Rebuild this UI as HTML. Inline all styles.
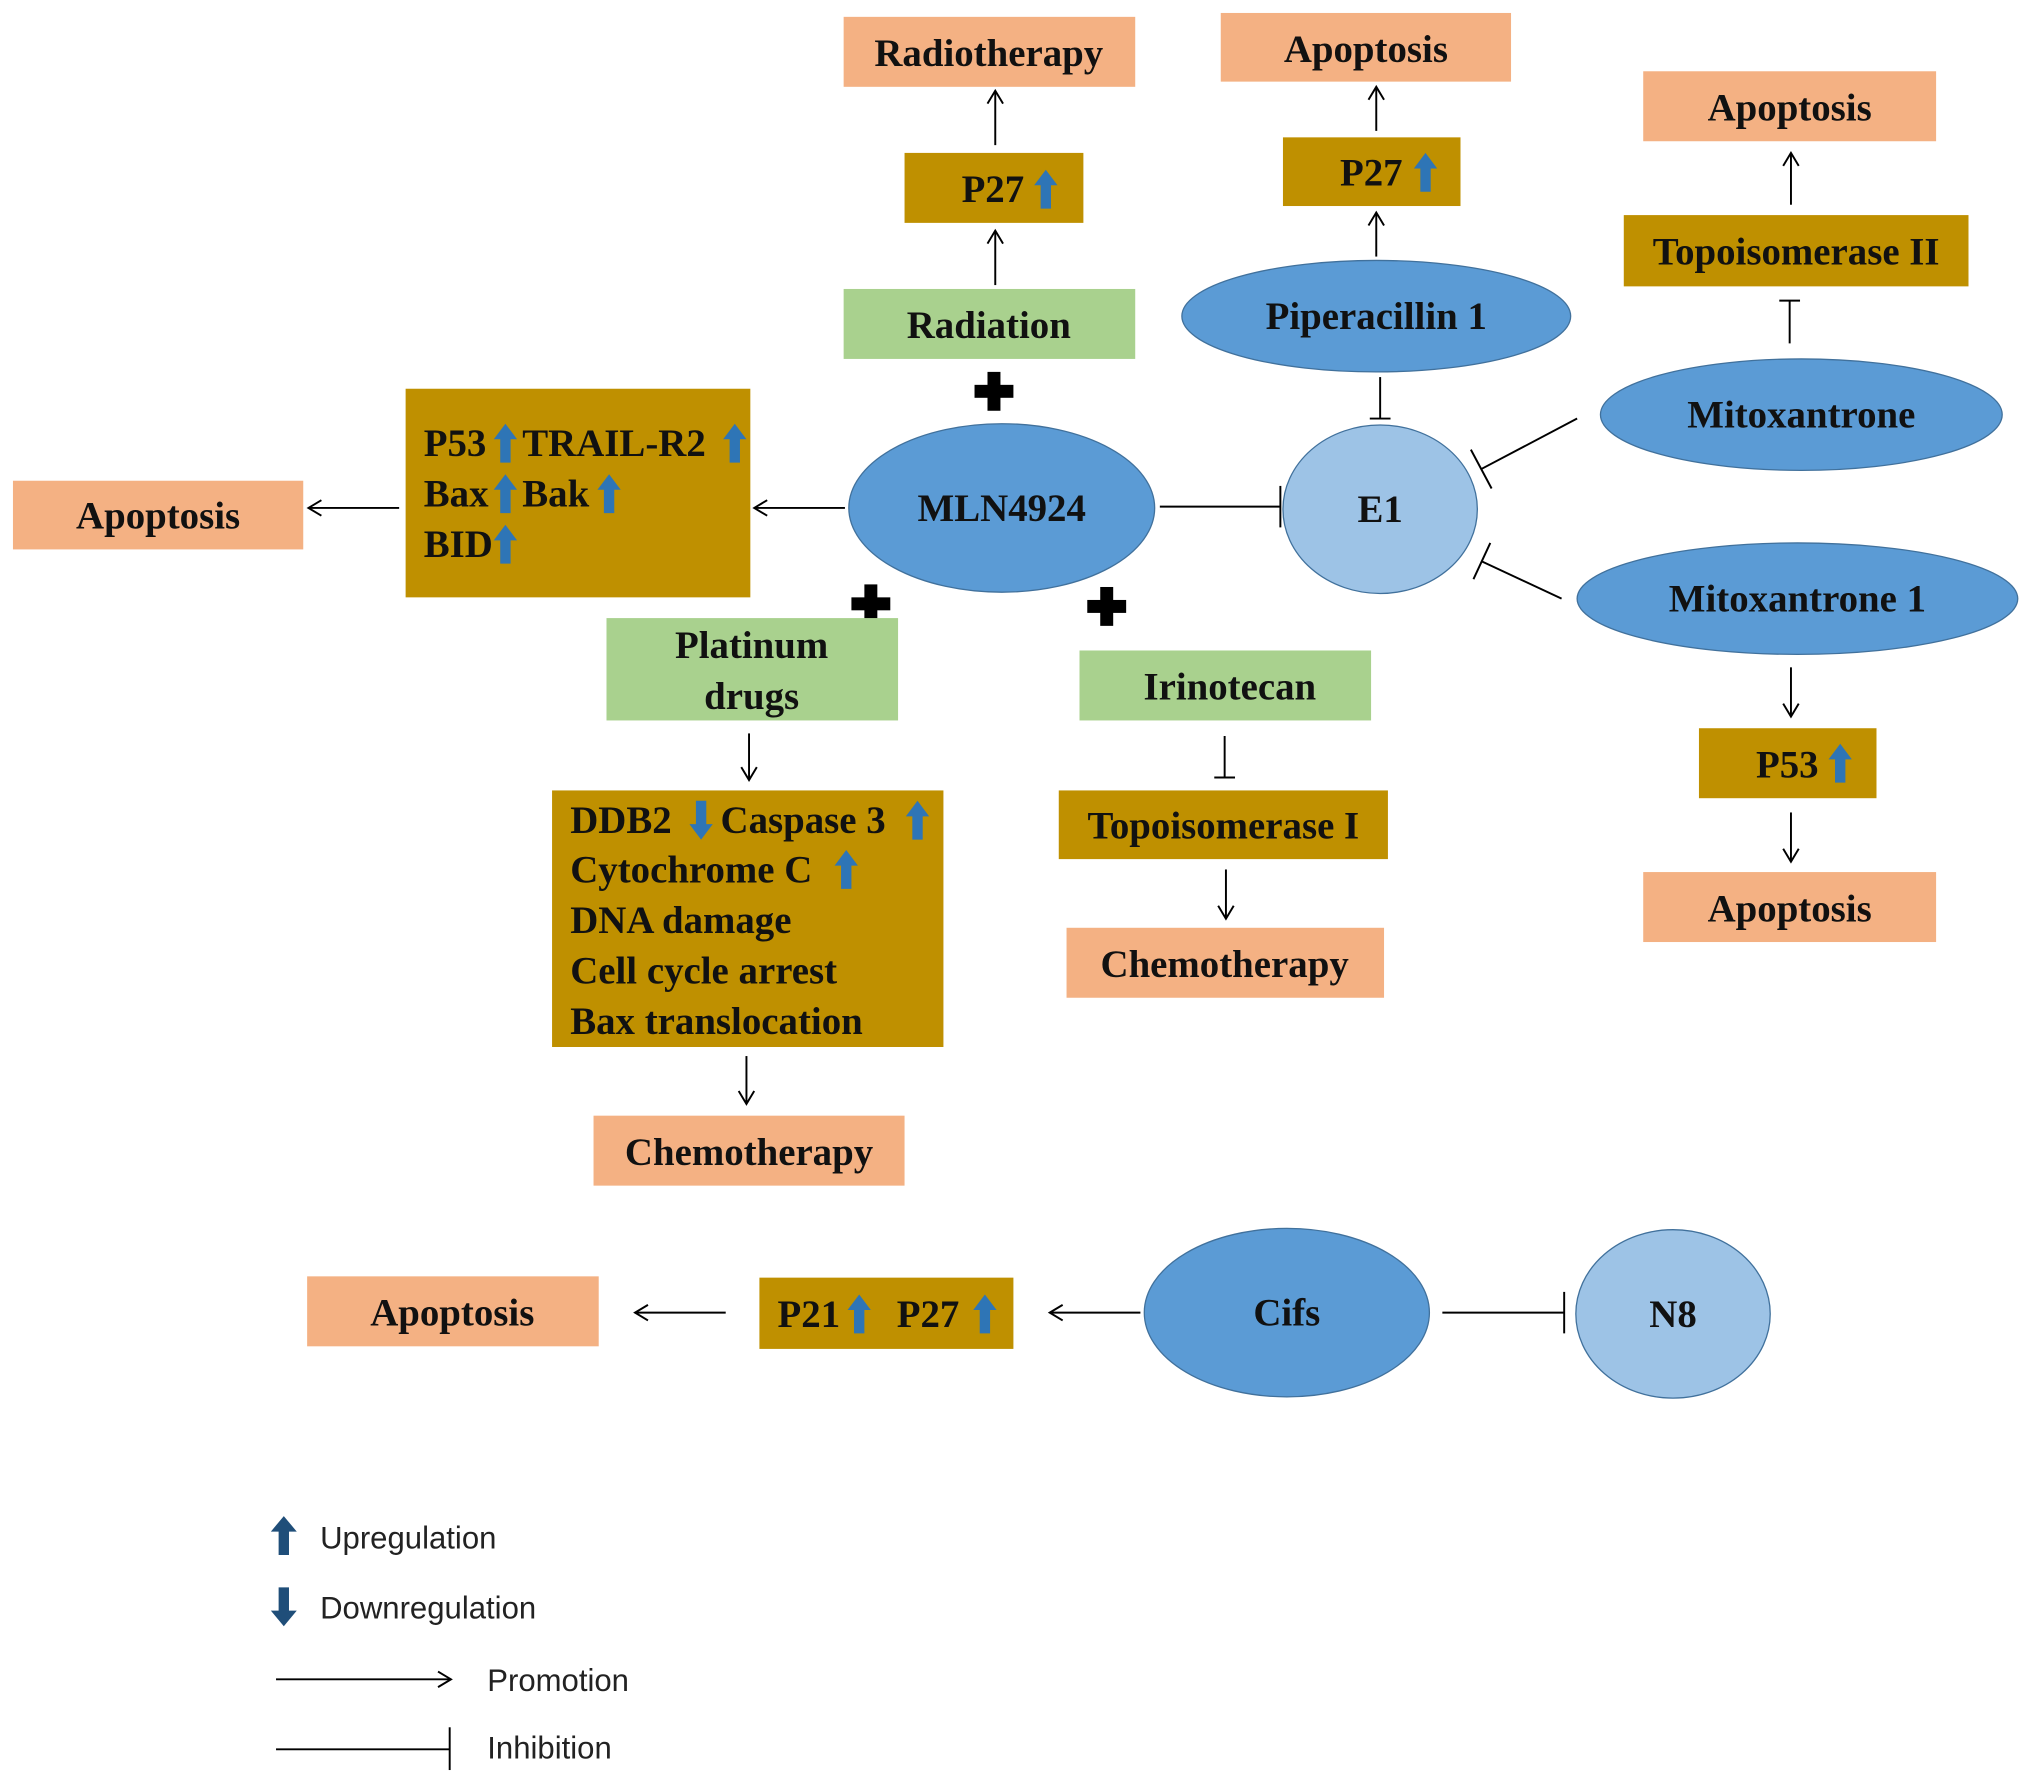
<!DOCTYPE html>
<html><head><meta charset="utf-8"><style>html,body{margin:0;padding:0;background:#fff}svg{display:block}</style></head>
<body>
<svg width="2032" height="1783" viewBox="0 0 1568 1376" preserveAspectRatio="none" xmlns="http://www.w3.org/2000/svg">
<defs>
<marker id="ar" markerWidth="14" markerHeight="14" refX="12" refY="7" orient="auto" markerUnits="userSpaceOnUse">
<polyline points="2,1 12,7 2,13" fill="none" stroke="#000" stroke-width="1.5"/></marker>
</defs>
<style>
.t{font-family:"Liberation Serif",serif;font-weight:bold;font-size:30px;fill:#111}
.l{font-family:"Liberation Sans",sans-serif;font-size:24px;fill:#222}
.s{fill:#F4B183}.g{fill:#BF9000}.gr{fill:#A9D18E}
.ln{stroke:#000;stroke-width:1.5;fill:none}
.ua{fill:#2E75B6}
</style>
<!-- boxes -->
<rect class="s" x="651" y="13" width="225" height="54"/><text class="t" x="763" y="51" text-anchor="middle">Radiotherapy</text>
<rect class="g" x="698" y="118" width="138" height="54"/><text class="t" x="742" y="156">P27</text>
<rect class="gr" x="651" y="223" width="225" height="54"/><text class="t" x="763" y="261" text-anchor="middle">Radiation</text>
<rect class="s" x="942" y="10" width="224" height="53"/><text class="t" x="1054" y="48" text-anchor="middle">Apoptosis</text>
<rect class="g" x="990" y="106" width="137" height="53"/><text class="t" x="1034" y="143">P27</text>
<rect class="s" x="1268" y="55" width="226" height="54"/><text class="t" x="1381" y="93" text-anchor="middle">Apoptosis</text>
<rect class="g" x="1253" y="166" width="266" height="55"/><text class="t" x="1386" y="204" text-anchor="middle">Topoisomerase II</text>
<rect class="g" x="1311" y="562" width="137" height="54"/><text class="t" x="1355" y="600">P53</text>
<rect class="s" x="1268" y="673" width="226" height="54"/><text class="t" x="1381" y="711" text-anchor="middle">Apoptosis</text>
<rect class="g" x="313" y="300" width="266" height="161"/>
<text class="t" x="327" y="352">P53</text><text class="t" x="403" y="352">TRAIL-R2</text>
<text class="t" x="327" y="391">Bax</text><text class="t" x="403" y="391">Bak</text>
<text class="t" x="327" y="430">BID</text>
<rect class="s" x="10" y="371" width="224" height="53"/><text class="t" x="122" y="408" text-anchor="middle">Apoptosis</text>
<rect class="gr" x="468" y="477" width="225" height="79"/><text class="t" x="580" y="508" text-anchor="middle">Platinum</text><text class="t" x="580" y="547" text-anchor="middle">drugs</text>
<rect class="g" x="426" y="610" width="302" height="198"/>
<text class="t" x="440" y="643">DDB2</text><text class="t" x="556" y="643">Caspase 3</text>
<text class="t" x="440" y="681">Cytochrome C</text>
<text class="t" x="440" y="720">DNA damage</text>
<text class="t" x="440" y="759">Cell cycle arrest</text>
<text class="t" x="440" y="798">Bax translocation</text>
<rect class="s" x="458" y="861" width="240" height="54"/><text class="t" x="578" y="899" text-anchor="middle">Chemotherapy</text>
<rect class="gr" x="833" y="502" width="225" height="54"/><text class="t" x="949" y="540" text-anchor="middle">Irinotecan</text>
<rect class="g" x="817" y="610" width="254" height="53"/><text class="t" x="944" y="647" text-anchor="middle">Topoisomerase I</text>
<rect class="s" x="823" y="716" width="245" height="54"/><text class="t" x="945" y="754" text-anchor="middle">Chemotherapy</text>
<rect class="s" x="237" y="985" width="225" height="54"/><text class="t" x="349" y="1023" text-anchor="middle">Apoptosis</text>
<rect class="g" x="586" y="986" width="196" height="55"/><text class="t" x="600" y="1024">P21</text><text class="t" x="692" y="1024">P27</text>
<!-- ellipses -->
<ellipse cx="1062" cy="244" rx="150" ry="43" fill="#5B9BD5" stroke="#41719C" stroke-width="1"/><text class="t" x="1062" y="254" text-anchor="middle">Piperacillin 1</text>
<ellipse cx="1065" cy="393" rx="75" ry="65" fill="#9DC3E6" stroke="#41719C" stroke-width="1"/><text class="t" x="1065" y="403" text-anchor="middle">E1</text>
<ellipse cx="1390" cy="320" rx="155" ry="43" fill="#5B9BD5" stroke="#41719C" stroke-width="1"/><text class="t" x="1390" y="330" text-anchor="middle">Mitoxantrone</text>
<ellipse cx="1387" cy="462" rx="170" ry="43" fill="#5B9BD5" stroke="#41719C" stroke-width="1"/><text class="t" x="1387" y="472" text-anchor="middle">Mitoxantrone 1</text>
<ellipse cx="773" cy="392" rx="118" ry="65" fill="#5B9BD5" stroke="#41719C" stroke-width="1"/><text class="t" x="773" y="402" text-anchor="middle">MLN4924</text>
<ellipse cx="993" cy="1013" rx="110" ry="65" fill="#5B9BD5" stroke="#41719C" stroke-width="1"/><text class="t" x="993" y="1023" text-anchor="middle">Cifs</text>
<ellipse cx="1291" cy="1014" rx="75" ry="65" fill="#9DC3E6" stroke="#41719C" stroke-width="1"/><text class="t" x="1291" y="1024" text-anchor="middle">N8</text>
<!-- promotion arrows -->
<g class="ln">
<line x1="768" y1="112" x2="768" y2="70" marker-end="url(#ar)"/>
<line x1="768" y1="220" x2="768" y2="178" marker-end="url(#ar)"/>
<line x1="1062" y1="101" x2="1062" y2="67" marker-end="url(#ar)"/>
<line x1="1062" y1="198" x2="1062" y2="164" marker-end="url(#ar)"/>
<line x1="1382" y1="158" x2="1382" y2="118" marker-end="url(#ar)"/>
<line x1="1382" y1="515" x2="1382" y2="553" marker-end="url(#ar)"/>
<line x1="1382" y1="627" x2="1382" y2="665" marker-end="url(#ar)"/>
<line x1="652" y1="392" x2="582" y2="392" marker-end="url(#ar)"/>
<line x1="308" y1="392" x2="238" y2="392" marker-end="url(#ar)"/>
<line x1="578" y1="566" x2="578" y2="602" marker-end="url(#ar)"/>
<line x1="576" y1="815" x2="576" y2="852" marker-end="url(#ar)"/>
<line x1="946" y1="671" x2="946" y2="709" marker-end="url(#ar)"/>
<line x1="560" y1="1013" x2="490" y2="1013" marker-end="url(#ar)"/>
<line x1="880" y1="1013" x2="810" y2="1013" marker-end="url(#ar)"/>
<line x1="213" y1="1296" x2="348" y2="1296" marker-end="url(#ar)"/>
<!-- inhibitions -->
<line x1="1065" y1="291" x2="1065" y2="323"/><line x1="1057" y1="323" x2="1073" y2="323"/>
<line x1="1381" y1="265" x2="1381" y2="232"/><line x1="1373" y1="232" x2="1389" y2="232"/>
<line x1="1217" y1="323" x2="1143" y2="362"/><line x1="1135" y1="347" x2="1151" y2="377"/>
<line x1="1205" y1="462" x2="1143" y2="433"/><line x1="1150" y1="419" x2="1137" y2="447"/>
<line x1="895" y1="391" x2="988" y2="391"/><line x1="988" y1="375" x2="988" y2="407"/>
<line x1="945" y1="568" x2="945" y2="600"/><line x1="937" y1="600" x2="953" y2="600"/>
<line x1="1113" y1="1013" x2="1207" y2="1013"/><line x1="1207" y1="997" x2="1207" y2="1029"/>
<line x1="213" y1="1350" x2="347" y2="1350"/><line x1="347" y1="1333" x2="347" y2="1366"/>
</g>
<!-- plus signs -->
<g fill="#000">
<rect x="752" y="297" width="30" height="10"/><rect x="762" y="287" width="10" height="30"/>
<rect x="657" y="461" width="30" height="10"/><rect x="667" y="451" width="10" height="26"/>
<rect x="839" y="463" width="30" height="10"/><rect x="849" y="453" width="10" height="30"/>
</g>
<!-- up/down blue arrows -->
<g class="ua">
<polygon transform="translate(807,146)" points="0,-15 9,-3 4,-3 4,15 -4,15 -4,-3 -9,-3"/>
<polygon transform="translate(1100,133)" points="0,-15 9,-3 4,-3 4,15 -4,15 -4,-3 -9,-3"/>
<polygon transform="translate(1420,589)" points="0,-15 9,-3 4,-3 4,15 -4,15 -4,-3 -9,-3"/>
<polygon transform="translate(390,342)" points="0,-15 9,-3 4,-3 4,15 -4,15 -4,-3 -9,-3"/>
<polygon transform="translate(567,342)" points="0,-15 9,-3 4,-3 4,15 -4,15 -4,-3 -9,-3"/>
<polygon transform="translate(390,381)" points="0,-15 9,-3 4,-3 4,15 -4,15 -4,-3 -9,-3"/>
<polygon transform="translate(470,381)" points="0,-15 9,-3 4,-3 4,15 -4,15 -4,-3 -9,-3"/>
<polygon transform="translate(390,420)" points="0,-15 9,-3 4,-3 4,15 -4,15 -4,-3 -9,-3"/>
<polygon transform="translate(541,633) rotate(180)" points="0,-15 9,-3 4,-3 4,15 -4,15 -4,-3 -9,-3"/>
<polygon transform="translate(708,633)" points="0,-15 9,-3 4,-3 4,15 -4,15 -4,-3 -9,-3"/>
<polygon transform="translate(653,671)" points="0,-15 9,-3 4,-3 4,15 -4,15 -4,-3 -9,-3"/>
<polygon transform="translate(663,1014)" points="0,-15 9,-3 4,-3 4,15 -4,15 -4,-3 -9,-3"/>
<polygon transform="translate(760,1014)" points="0,-15 9,-3 4,-3 4,15 -4,15 -4,-3 -9,-3"/>
<polygon transform="translate(219,1185)" fill="#1F4E79" points="0,-15 10,-3 4,-3 4,15 -4,15 -4,-3 -10,-3"/>
<polygon transform="translate(219,1240) rotate(180)" fill="#1F4E79" points="0,-15 10,-3 4,-3 4,15 -4,15 -4,-3 -10,-3"/>
</g>
<text class="l" x="247" y="1195">Upregulation</text>
<text class="l" x="247" y="1249">Downregulation</text>
<text class="l" x="376" y="1305">Promotion</text>
<text class="l" x="376" y="1357">Inhibition</text>
</svg>
</body></html>
